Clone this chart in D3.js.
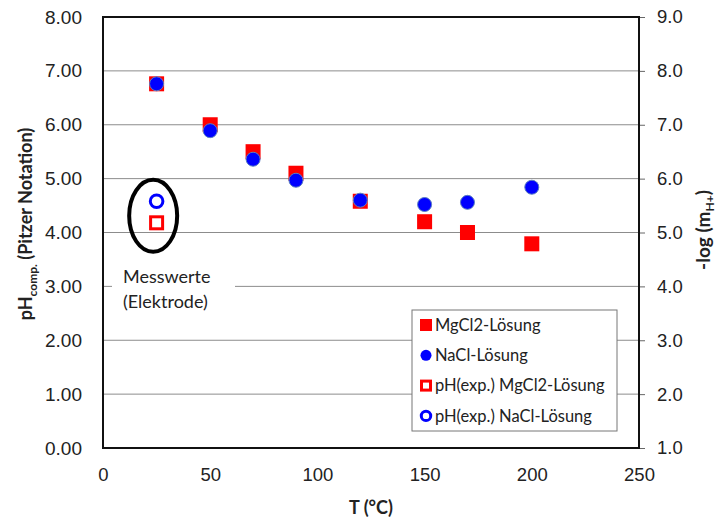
<!DOCTYPE html>
<html>
<head>
<meta charset="utf-8">
<script src="https://cdn.jsdelivr.net/npm/d3@7"></script>
<style>
  body { margin: 0; background: #fff; }
  svg { font-family: Lato, "Open Sans", sans-serif; }
</style>
</head>
<body>
<div id="chart"></div>
<script>
// Temperatures (°C)
const temps = [25, 50, 70, 90, 120, 150, 170, 200];
// computed pH, MgCl2 solution
const mgcl2 = [6.76, 6.00, 5.50, 5.10, 4.58, 4.20, 4.00, 3.79];
// computed pH, NaCl solution
const nacl = [6.76, 5.89, 5.36, 4.97, 4.60, 4.52, 4.56, 4.84];
// measured values (electrode)
const expTemps = [25];
const expMgcl2 = [4.18];
const expNacl = [4.58];

const leftTicks = [0, 1, 2, 3, 4, 5, 6, 7, 8];
const rightTicks = [1, 2, 3, 4, 5, 6, 7, 8, 9];
const xTicks = [0, 50, 100, 150, 200, 250];

const legendItems = ["MgCl2-Lösung", "NaCl-Lösung", "pH(exp.) MgCl2-Lösung", "pH(exp.) NaCl-Lösung"];

const width = 719, height = 519;
const margin = { top: 17, right: 80, bottom: 71, left: 103 };
const w = width - margin.left - margin.right;
const h = height - margin.top - margin.bottom;

const svg = d3.select("#chart")
  .append("svg")
  .attr("width", width)
  .attr("height", height);

const g = svg.append("g")
  .attr("transform", `translate(${margin.left}, ${margin.top})`);

const x = d3.scaleLinear().domain([0, 250]).range([0, w]);
const y = d3.scaleLinear().domain([0, 8]).range([h, 0]);
const y2 = d3.scaleLinear().domain([1, 9]).range([h, 0]);

// gridlines
g.append("g")
  .selectAll("line")
  .data(leftTicks)
  .enter()
  .append("line")
  .attr("x1", 0)
  .attr("x2", w)
  .attr("y1", d => y(d))
  .attr("y2", d => y(d))
  .attr("stroke", "#8c8c8c")
  .attr("stroke-width", 1);

// left axis labels
const axL = g.append("g")
  .call(d3.axisLeft(y).tickValues(leftTicks).tickFormat(d3.format(".2f")).tickSize(0).tickPadding(21));
axL.select(".domain").remove();
axL.selectAll("text").style("font-size", "19px").attr("fill", "#222");

// right axis
const axR = g.append("g")
  .attr("transform", `translate(${w}, 0)`)
  .call(d3.axisRight(y2).tickValues(rightTicks).tickFormat(d3.format(".1f")).tickSize(6).tickPadding(12));
axR.select(".domain").remove();
axR.selectAll("line").attr("stroke", "#666");
axR.selectAll("text").style("font-size", "18.5px").attr("fill", "#222");

// bottom axis labels
const axB = g.append("g")
  .attr("transform", `translate(0, ${h})`)
  .call(d3.axisBottom(x).tickValues(xTicks).tickSize(0).tickPadding(20));
axB.select(".domain").remove();
axB.selectAll("text").style("font-size", "18.5px").attr("fill", "#222");

// plot frame
g.append("rect")
  .attr("width", w)
  .attr("height", h)
  .attr("fill", "none")
  .attr("stroke", "#111")
  .attr("stroke-width", 2);

// annotation: measured values
g.append("rect")
  .attr("x", 9)
  .attr("y", y(3) - 20)
  .attr("width", 123)
  .attr("height", 50)
  .attr("fill", "#fff");
g.append("text")
  .attr("x", 20)
  .attr("y", y(3) - 3)
  .style("font-size", "18px")
  .attr("fill", "#222")
  .text("Messwerte");
g.append("text")
  .attr("x", 20)
  .attr("y", y(3) + 22)
  .style("font-size", "18px")
  .attr("fill", "#222")
  .text("(Elektrode)");

g.append("ellipse")
  .attr("cx", x(23.4))
  .attr("cy", y(4.31))
  .attr("rx", 24)
  .attr("ry", 36)
  .attr("fill", "none")
  .attr("stroke", "#000")
  .attr("stroke-width", 4);

const sq = 15;

// MgCl2 squares
g.append("g")
  .selectAll("rect")
  .data(temps)
  .enter()
  .append("rect")
  .attr("x", (d, i) => x(d) - sq / 2)
  .attr("y", (d, i) => y(mgcl2[i]) - sq / 2)
  .attr("width", sq)
  .attr("height", sq)
  .attr("fill", "#ff0000");

// NaCl circles
g.append("g")
  .selectAll("circle")
  .data(temps)
  .enter()
  .append("circle")
  .attr("cx", d => x(d))
  .attr("cy", (d, i) => y(nacl[i]))
  .attr("r", 7)
  .attr("fill", "#0000ff")
  .attr("stroke", "#5b7fc0")
  .attr("stroke-width", 1);

// experimental points
g.append("g")
  .selectAll("rect")
  .data(expTemps)
  .enter()
  .append("rect")
  .attr("x", (d, i) => x(d) - 6)
  .attr("y", (d, i) => y(expMgcl2[i]) - 6)
  .attr("width", 12)
  .attr("height", 12)
  .attr("fill", "#fff")
  .attr("stroke", "#ff0000")
  .attr("stroke-width", 3);

g.append("g")
  .selectAll("circle")
  .data(expTemps)
  .enter()
  .append("circle")
  .attr("cx", d => x(d))
  .attr("cy", (d, i) => y(expNacl[i]))
  .attr("r", 6.3)
  .attr("fill", "#fff")
  .attr("stroke", "#0000ff")
  .attr("stroke-width", 3);

// legend
const lg = g.append("g").attr("transform", `translate(${412 - margin.left}, ${310 - margin.top})`);
lg.append("rect")
  .attr("width", 205)
  .attr("height", 121)
  .attr("fill", "#fff")
  .attr("stroke", "#777")
  .attr("stroke-width", 1);

const rows = lg.selectAll("g.row")
  .data(legendItems)
  .enter()
  .append("g")
  .attr("class", "row")
  .attr("transform", (d, i) => `translate(14, ${15 + i * 30.3})`);

rows.each(function(d, i) {
  const r = d3.select(this);
  if (i === 0) {
    r.append("rect").attr("x", -6).attr("y", -6).attr("width", 12).attr("height", 12).attr("fill", "#ff0000");
  } else if (i === 1) {
    r.append("circle").attr("r", 5.5).attr("fill", "#0000ff");
  } else if (i === 2) {
    r.append("rect").attr("x", -4.5).attr("y", -4.5).attr("width", 9).attr("height", 9)
      .attr("fill", "#fff").attr("stroke", "#ff0000").attr("stroke-width", 3);
  } else {
    r.append("circle").attr("r", 4.7).attr("fill", "#fff").attr("stroke", "#0000ff").attr("stroke-width", 3);
  }
  r.append("text")
    .attr("x", 9)
    .attr("dy", "0.35em")
    .style("font-size", "16.5px")
    .attr("fill", "#222")
    .text(d);
});

// axis titles
svg.append("text")
  .attr("x", margin.left + w / 2)
  .attr("y", 514)
  .attr("text-anchor", "middle")
  .style("font-size", "18px")
  .style("font-weight", "bold")
  .attr("fill", "#222")
  .text("T (°C)");

const lt = svg.append("text")
  .attr("transform", "translate(32, 224) rotate(-90)")
  .attr("text-anchor", "middle")
  .style("font-size", "18px")
  .style("font-weight", "bold")
  .attr("fill", "#222");
lt.append("tspan").text("pH");
lt.append("tspan").attr("dy", 5).style("font-size", "12px").text("comp.");
lt.append("tspan").attr("dy", -5).text(" (Pitzer Notation)");

const rt = svg.append("text")
  .attr("transform", "translate(710, 230) rotate(-90)")
  .attr("text-anchor", "middle")
  .style("font-size", "19px")
  .style("font-weight", "bold")
  .attr("fill", "#222");
rt.append("tspan").text("-log (m");
rt.append("tspan").attr("dy", 4).style("font-size", "12px").text("H+");
rt.append("tspan").attr("dy", -4).text(")");
</script>
</body>
</html>
